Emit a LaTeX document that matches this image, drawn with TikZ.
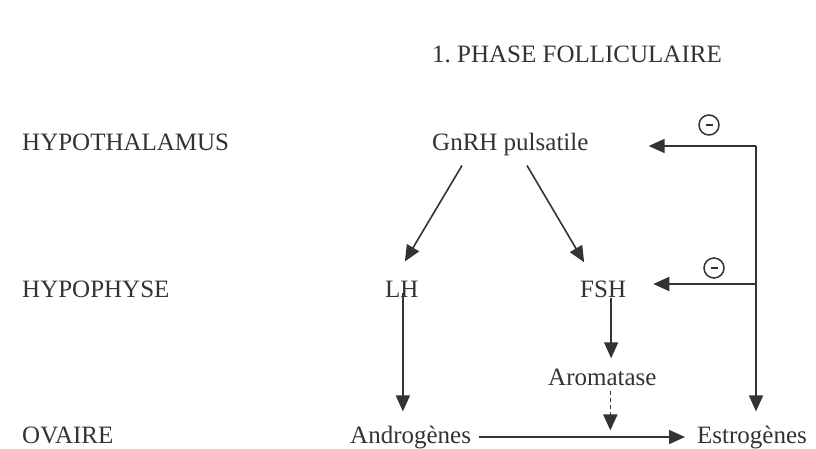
\documentclass[tikz,border=0pt]{standalone}
\usepackage{fontspec}
\setmainfont{Liberation Serif}
\usetikzlibrary{arrows.meta,calc}
\definecolor{ink}{gray}{0.2}
\tikzset{
  lbl/.style={inner sep=0pt, anchor=base west, text=ink, font=\fontsize{25}{30}\selectfont},
  arr/.style={draw=ink, line width=1.6pt, -{Triangle[length=16pt,width=14pt]}},
  minus/.style={circle, draw=ink, line width=1.5pt, minimum size=20pt, inner sep=0pt}
}
\begin{document}
\begin{tikzpicture}[x=1pt,y=1pt]
\useasboundingbox (0,0) rectangle (816,-448);
\fill[white] (0,0) rectangle (816,-448);
% texts
\node[lbl] (title) at (432,-62) {1.\ PHASE FOLLICULAIRE};
\node[lbl] (hypo) at (22,-150) {HYPOTHALAMUS};
\node[lbl] (hyph) at (22,-297) {HYPOPHYSE};
\node[lbl] (ova) at (22,-443) {OVAIRE};
\node[lbl] (gnrh) at (432,-150) {GnRH pulsatile};
\node[lbl] (lh) at (385,-297) {LH};
\node[lbl] (fsh) at (580,-297) {FSH};
\node[lbl] (aroma) at (548,-385) {Aromatase};
\node[lbl] (andro) at (350,-443) {Androgènes};
\node[lbl] (estro) at (697,-443) {Estrogènes};
% minus circles
\node[minus] (m1) at (709,-125) {};
\node[minus] (m2) at (714,-268) {};
\draw[ink, line width=1.6pt] ([xshift=-3.5pt]m1.center) -- ([xshift=3.5pt]m1.center);
\draw[ink, line width=1.6pt] ([xshift=-3.5pt]m2.center) -- ([xshift=3.5pt]m2.center);
% GnRH to LH / FSH
\draw[arr] ($(gnrh.south west)+(30,-10)$) -- ($(lh.north)+(3,19)$);
\draw[arr] ($(gnrh.south west)+(95,-10)$) -- ($(fsh.north)+(-19,18)$);
% LH to androgenes
\draw[arr] ($(lh.south)+(1,4)$) -- ($(lh.south |- andro.north)+(1,14)$);
% FSH to aromatase
\draw[arr] ($(fsh.south)+(8,-1)$) -- ($(fsh.south |- aroma.north)+(8,10)$);
% aromatase dashed
\draw[arr, dash pattern=on 4pt off 3pt] ($(aroma.south)+(8,-6)$) -- ($(aroma.south)+(8,-45)$);
% androgenes to estrogenes
\draw[arr] ([xshift=8pt]andro.east) -- ($(andro.east -| estro.west)+(-12,0)$);
% feedback
\coordinate (fbtop) at (756,-146);
\coordinate (fbmid) at (756,-284);
\draw[arr] (fbtop) -- ($(fbtop |- estro.north)+(0,14)$);
\draw[arr] (fbtop) -- ($(fbtop -| gnrh.east)+(60,0)$);
\draw[arr] (fbmid) -- ($(fbmid -| fsh.east)+(27,0)$);
\end{tikzpicture}
\end{document}
